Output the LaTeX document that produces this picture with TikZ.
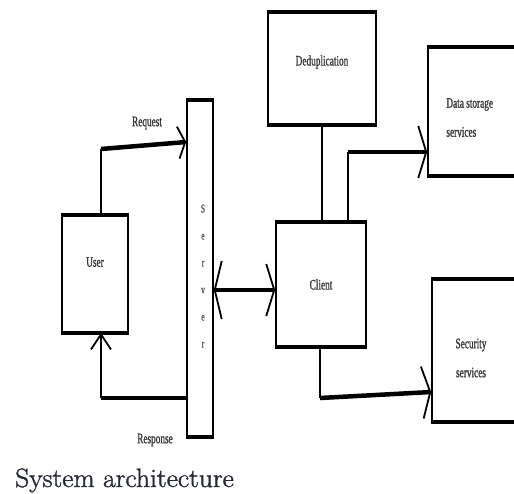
\documentclass[tikz,border=0pt]{standalone}
\usepackage{fontspec}
\usetikzlibrary{arrows.meta}
\newfontfamily\boxfont[FakeStretch=0.64,FakeBold=1.2]{Liberation Serif}
\newfontfamily\capfont[FakeBold=1.5,FakeStretch=1.04]{Latin Modern Roman}
\definecolor{capcol}{RGB}{38,42,52}
\tikzset{
  blk/.style={draw, line width=1.6pt, inner sep=0pt,
    append after command={
      (\tikzlastnode.north west) edge[line width=4.5pt] (\tikzlastnode.north east)
      (\tikzlastnode.south west) edge[line width=4.5pt] (\tikzlastnode.south east)}},
  txt/.style={font=\boxfont\fontsize{14.5}{29}\selectfont, text=black!78, inner sep=0pt},
  thinln/.style={line width=1.7pt},
  thickln/.style={line width=4.5pt},
  barbA/.tip={Straight Barb[length=7pt,width=32pt,line width=1.8pt]},
  barbB/.tip={Straight Barb[length=15pt,width=20pt,line width=1.8pt]},
  barbC/.tip={Straight Barb[length=8pt,width=52pt,line width=1.8pt]},
  barbD/.tip={Straight Barb[length=7pt,width=58pt,line width=1.8pt]},
}
\begin{document}
\begin{tikzpicture}[x=1pt,y=-1pt]
\useasboundingbox (0,0) rectangle (514,493);
\clip (0,0) rectangle (514,493);

% boxes
\node[blk, minimum width=66pt, minimum height=116pt,
  label={[txt,yshift=12pt]center:User}] (user) at (95,274) {};
\node[blk, minimum width=26pt, minimum height=335pt,
  label={[txt,align=center,font=\boxfont\fontsize{12}{27}\selectfont,text=black!65,xshift=3pt,yshift=-7.5pt]center:{S\\e\\r\\v\\e\\r}}] (server) at (200,268.5) {};
\node[blk, minimum width=90pt, minimum height=123pt,
  label={[txt]center:Client}] (client) at (321,284.5) {};
\node[blk, minimum width=108pt, minimum height=111pt,
  label={[txt,yshift=6.5pt]center:Deduplication}] (dedup) at (322,68.5) {};
\node[blk, minimum width=132pt, minimum height=127pt,
  label={[txt,align=left,anchor=west,xshift=19pt,yshift=-6pt]west:{Data storage\\services}}] (data) at (494,111.5) {};
\node[blk, minimum width=128pt, minimum height=141pt,
  label={[txt,align=center,xshift=-25pt,yshift=-7.5pt]center:{Security\\services}}] (sec) at (496,350.5) {};

% bends
\coordinate (rqbend) at (101,149);
\coordinate (rsbend) at (101,398);
\coordinate (dsbend) at (348,152);
\coordinate (ssbend) at (320,398);

% request
\draw[thinln] (user.north -| rqbend) -- (rqbend);
\draw[thickln, -{barbA}] (rqbend) -- (server.west |- 0,142);
\node[txt] (reqlbl) at (147,123) {Request};

% response
\draw[thickln] (server.west |- rsbend) -- (rsbend);
\draw[thinln, -{barbB}] (rsbend) -- (user.south -| rsbend);
\node[txt] (reslbl) at (155,440) {Response};

% server <-> client
\draw[thickln, {barbD}-{barbC}] (server.east |- 0,290) -- (client.west |- 0,290);

% dedup -- client
\draw[thinln] (dedup.south) -- (client.north -| dedup.south);

% client -> data storage
\draw[thinln] (client.north -| dsbend) -- (dsbend);
\draw[thickln, -{barbC}] (dsbend) -- (data.west |- dsbend);

% client -> security
\draw[thinln] (client.south -| ssbend) -- (ssbend);
\draw[thickln, -{barbC}] (ssbend) -- (sec.west |- 0,392);

% caption
\node[anchor=base west, inner sep=0pt, text=capcol, font=\capfont\fontsize{26.5}{30}\selectfont] (cap) at (15,487) {System architecture};
\end{tikzpicture}
\end{document}
